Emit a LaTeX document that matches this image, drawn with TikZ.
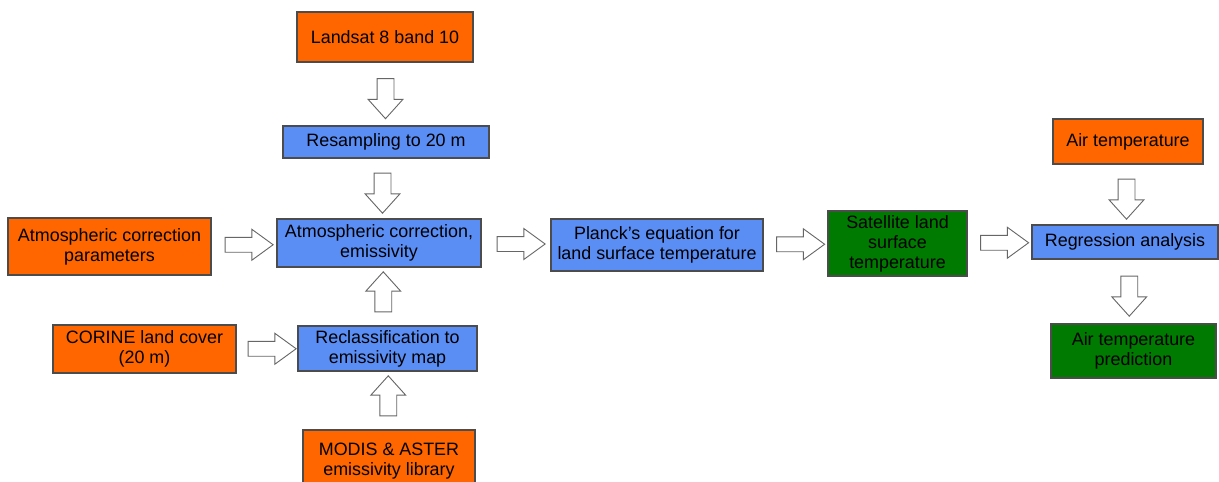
\documentclass[tikz,border=0pt]{standalone}
\usepackage{fontspec}
\setmainfont{Liberation Sans}
\usetikzlibrary{calc, shapes.arrows}

\definecolor{inputorange}{RGB}{255,102,0}
\definecolor{stepblue}{RGB}{91,142,244}
\definecolor{outgreen}{RGB}{0,122,0}

\begin{document}
\begin{tikzpicture}[
    x=1pt, y=-1pt,
    box/.style={
        draw=black!70,
        line width=1.2pt,
        align=center,
        inner sep=0pt,
        font=\fontsize{17.9}{20}\selectfont
    },
    source/.style={box, fill=inputorange},
    process/.style={box, fill=stepblue},
    result/.style={box, fill=outgreen},
    flow/.style={
        single arrow,
        draw=black!60,
        fill=white,
        line width=0.9pt,
        inner xsep=0pt,
        single arrow head indent=0pt
    },
    flowvert/.style={flow, minimum height=40pt, minimum width=34pt,
        inner ysep=8pt, single arrow head extend=9pt, single arrow tip angle=84},
    flowdown/.style={flowvert, rotate=-90},
    flowup/.style={flowvert, rotate=90},
    flowright/.style={flow, minimum height=48pt, minimum width=30pt,
        inner ysep=7pt, single arrow head extend=8pt, single arrow tip angle=72}
]
\fill[white] (0,0) rectangle (1219,482);
\useasboundingbox (0,0) rectangle (1219,482);

% inputs
\node[source, minimum width=176pt, minimum height=50pt] (landsat) at (385,37) {Landsat 8 band 10};
\node[source, minimum width=203pt, minimum height=57pt] (params) at (109.5,246.5) {Atmospheric correction\\parameters};
\node[source, minimum width=183pt, minimum height=48pt] (corine) at (144.5,349) {CORINE land cover\\(20 m)};
\node[source, minimum width=172pt, minimum height=62pt] (library) at (389,461) {MODIS \& ASTER\\emissivity library};
\node[source, minimum width=150pt, minimum height=45pt] (airtemp) at (1128,141.5) {Air temperature};

% processing steps
\node[process, minimum width=206pt, minimum height=32pt] (resamp) at (386,142) {Resampling to 20 m};
\node[process, minimum width=204pt, minimum height=48pt] (atmcorr) at (379,243) {Atmospheric correction,\\emissivity};
\node[process, minimum width=179pt, minimum height=45pt] (reclass) at (387.5,348.5) {Reclassification to\\emissivity map};
\node[process, minimum width=212pt, minimum height=52pt] (planck) at (657,245) {Planck’s equation for\\land surface temperature};
\node[process, minimum width=186pt, minimum height=34pt] (regress) at (1125,242) {Regression analysis};

% results
\node[result, minimum width=139pt, minimum height=65pt] (lst) at (897.5,243.5) {Satellite land\\surface\\temperature};
\node[result, minimum width=165pt, minimum height=54pt] (predict) at (1133.5,351) {Air temperature\\prediction};

% block arrows
\node[flowdown] (a1) at ($(landsat.south)!0.5!(resamp.north)$) {};
\node[flowdown] (a2) at ($(resamp.south)!0.5!(atmcorr.north)$) {};
\node[flowright] (a3) at ($(params.east)!0.5!(atmcorr.west)$) {};
\node[flowup] (a4) at ($(reclass.north)!0.5!(atmcorr.south)$) {};
\node[flowright] (a5) at ($(corine.east)!0.5!(reclass.west)$) {};
\node[flowup] (a6) at ($(library.north)!0.5!(reclass.south)$) {};
\node[flowright] (a7) at ($(atmcorr.east)!0.5!(planck.west)$) {};
\node[flowright] (a8) at ($(planck.east)!0.5!(lst.west)$) {};
\node[flowright] (a9) at ($(lst.east)!0.5!(regress.west)$) {};
\node[flowdown] (a10) at ($(airtemp.south)!0.5!(regress.north)$) {};
\node[flowdown] (a11) at ($(regress.south)!0.5!(predict.north)$) {};
\end{tikzpicture}
\end{document}
